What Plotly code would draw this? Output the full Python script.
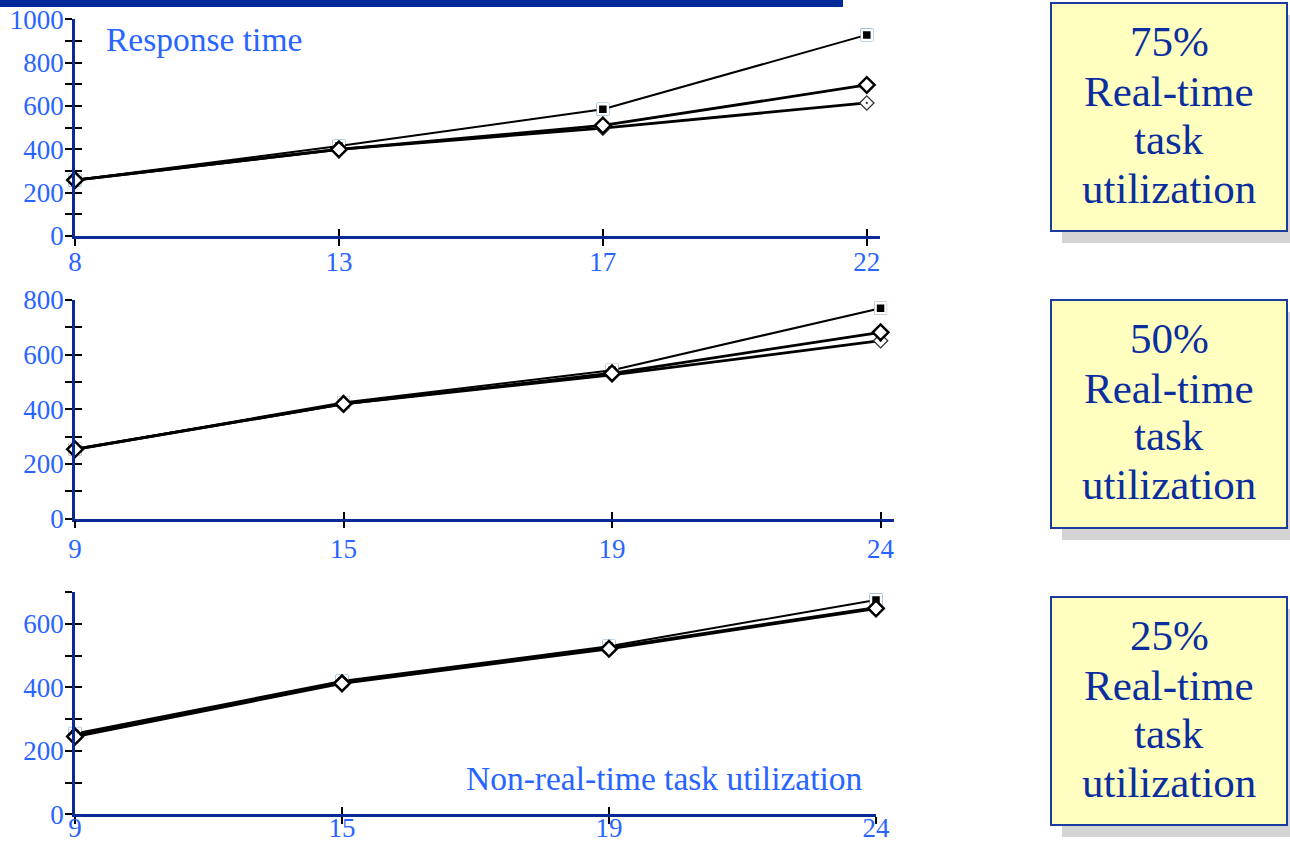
import plotly.graph_objects as go

W, H = 1290, 841

# ---- data -------------------------------------------------------------
# non-real-time task utilization (%) on the x axis of each panel
x_75 = ["8", "13", "17", "22"]
x_50 = ["9", "15", "19", "24"]
x_25 = ["9", "15", "19", "24"]

# response time for the three scheduling variants
sq_75 = [258, 415, 585, 928]
dia_75 = [258, 400, 510, 697]
dot_75 = [258, 400, 498, 614]

sq_50 = [254, 425, 543, 770]
dia_50 = [254, 420, 532, 682]
dot_50 = [254, 420, 526, 651]

sq_25 = [255, 420, 530, 676]
dia_25 = [245, 413, 522, 649]
dot_25 = [250, 416, 525, 652]

# y ticks (every 100, labelled every 200)
yt_75 = [0, 100, 200, 300, 400, 500, 600, 700, 800, 900, 1000]
yl_75 = ["0", "", "200", "", "400", "", "600", "", "800", "", "1000"]
yt_50 = [0, 100, 200, 300, 400, 500, 600, 700, 800]
yl_50 = ["0", "", "200", "", "400", "", "600", "", "800"]
yt_25 = [0, 100, 200, 300, 400, 500, 600, 700]
yl_25 = ["0", "", "200", "", "400", "", "600", ""]

box_titles = ["75%", "50%", "25%"]
box_lines = ["Real-time", "task", "utilization"]

# ---- styling ----------------------------------------------------------
SERIF = "Liberation Serif, Times New Roman, serif"
LABEL_BLUE = "#2864FF"
AXIS_BLUE = "#0A2A98"
NAVY = "#0B2E9E"


def px(x):
    return x / W


def py(y):
    return 1 - y / H


# pixel geometry of each panel: left, right end of x-axis, y of zero, y of top,
# x range end and how far the x tick labels sit from their ticks
panels = [
    dict(x=x_75, s=[sq_75, dia_75, dot_75], yt=yt_75, yl=yl_75, ymax=1000,
         left=75, right=880, y0=236, ytop=19.3, xr=3.05, box_top=3, xstand=-7),
    dict(x=x_50, s=[sq_50, dia_50, dot_50], yt=yt_50, yl=yl_50, ymax=800,
         left=75, right=894, y0=518.7, ytop=300, xr=3.05, box_top=300, xstand=-3),
    dict(x=x_25, s=[sq_25, dia_25, dot_25], yt=yt_25, yl=yl_25, ymax=700,
         left=75, right=876, y0=814.3, ytop=592.3, xr=3.0, box_top=597, xstand=-19),
]

fig = go.Figure()
layout = dict(
    template="none",
    width=W, height=H,
    margin=dict(l=0, r=0, t=0, b=0, pad=0, autoexpand=False),
    paper_bgcolor="white", plot_bgcolor="white",
    showlegend=False,
    font=dict(family=SERIF, color=LABEL_BLUE),
)

series_style = [
    dict(line=dict(color="black", width=2),
         marker=dict(symbol="square", size=10, color="black",
                     line=dict(color="white", width=2.5))),
    dict(line=dict(color="black", width=2.8),
         marker=dict(symbol="diamond", size=12, color="white",
                     line=dict(color="black", width=2.5))),
    dict(line=dict(color="black", width=2.8),
         marker=dict(symbol="diamond-dot", size=11, color="white",
                     line=dict(color="#333", width=1.3))),
]
draw_order = [0, 2, 1]

shapes = [
    # banner along the top edge
    dict(type="rect", xref="paper", yref="paper", x0=0, x1=px(843), y0=py(7), y1=1,
         fillcolor="#00299A", line=dict(width=0), layer="above"),
]
annotations = []

for i, p in enumerate(panels, start=1):
    xa, ya = f"x{i}", f"y{i}"
    xo, yo = f"x{i + 3}", f"y{i + 3}"
    xdom = [px(p["left"]), px(p["right"])]
    ydom = [py(p["y0"]), py(p["ytop"])]
    rng_x = [0, p["xr"]]
    rng_y = [0, p["ymax"]]

    for k in draw_order:
        st = series_style[k]
        if k == 0:
            # thin grey frame around the square markers
            fig.add_trace(go.Scatter(
                x=p["x"], y=p["s"][k], xaxis=xa, yaxis=ya, mode="markers",
                marker=dict(symbol="square-open", size=12,
                            line=dict(color="#777", width=1)),
                cliponaxis=False, hoverinfo="skip"))
        fig.add_trace(go.Scatter(
            x=p["x"], y=p["s"][k], xaxis=xa, yaxis=ya, mode="lines+markers",
            line=st["line"], marker=st["marker"], cliponaxis=False,
            hoverinfo="x+y"))

    # empty traces keep the overlay axes (inner tick halves) on the page
    fig.add_trace(go.Scatter(x=[], y=[], xaxis=xo, yaxis=yo, hoverinfo="skip"))

    tickfont = dict(family=SERIF, size=27, color=LABEL_BLUE)
    common = dict(showgrid=False, zeroline=False, automargin=False,
                  tickwidth=2, tickcolor="black", ticklen=7)
    layout[f"xaxis{i}"] = dict(
        domain=xdom, anchor=ya, type="category", range=rng_x,
        categoryorder="array", categoryarray=p["x"],
        showline=True, linecolor=AXIS_BLUE, linewidth=2.5,
        ticks="outside", tickfont=tickfont,
        ticklabelstandoff=p["xstand"], **common,
    )
    layout[f"yaxis{i}"] = dict(
        domain=ydom, anchor=xa, range=rng_y,
        tickvals=p["yt"], ticktext=p["yl"],
        showline=True, linecolor=AXIS_BLUE, linewidth=2.5,
        ticks="outside", tickfont=tickfont,
        ticklabelstandoff=-4, **common,
    )
    layout[f"xaxis{i + 3}"] = dict(
        domain=xdom, anchor=yo, overlaying=xa, type="category", range=rng_x,
        categoryorder="array", categoryarray=p["x"],
        tickvals=p["x"], showticklabels=False, showline=False,
        ticks="inside", **common,
    )
    layout[f"yaxis{i + 3}"] = dict(
        domain=ydom, anchor=xo, overlaying=ya, range=rng_y,
        tickvals=p["yt"], showticklabels=False, showline=False,
        ticks="inside", **common,
    )

    # side box with shadow
    bt = p["box_top"]
    shapes.append(dict(type="rect", xref="paper", yref="paper",
                       x0=px(1062), x1=px(1300), y0=py(bt + 240), y1=py(bt + 12),
                       fillcolor="#D4D4D4", line=dict(width=0), layer="below"))
    shapes.append(dict(type="rect", xref="paper", yref="paper",
                       x0=px(1051), x1=px(1287), y0=py(bt + 228), y1=py(bt),
                       fillcolor="#FFFFC0", line=dict(color="#1A3C9C", width=2),
                       layer="below"))
    texts = [box_titles[i - 1]] + box_lines
    for t, dy in zip(texts, [38, 88, 136, 185]):
        annotations.append(dict(
            text=t, xref="paper", yref="paper", x=px(1169), y=py(bt + dy),
            xanchor="center", yanchor="middle", showarrow=False,
            font=dict(family=SERIF, size=43, color=NAVY)))

annotations.append(dict(
    text="Response time", xref="paper", yref="paper", x=px(104), y=py(40),
    xanchor="left", yanchor="middle", showarrow=False,
    font=dict(family=SERIF, size=33.5, color=LABEL_BLUE)))
annotations.append(dict(
    text="Non-real-time task utilization", xref="paper", yref="paper",
    x=px(464), y=py(778), xanchor="left", yanchor="middle", showarrow=False,
    font=dict(family=SERIF, size=33.5, color=LABEL_BLUE)))

layout["shapes"] = shapes
layout["annotations"] = annotations
fig.update_layout(**layout)

# page without body margin so the figure sits flush in the window
fig.write_html(
    "out.html",
    post_script="document.body.style.margin='0';document.body.style.overflow='hidden';",
)
